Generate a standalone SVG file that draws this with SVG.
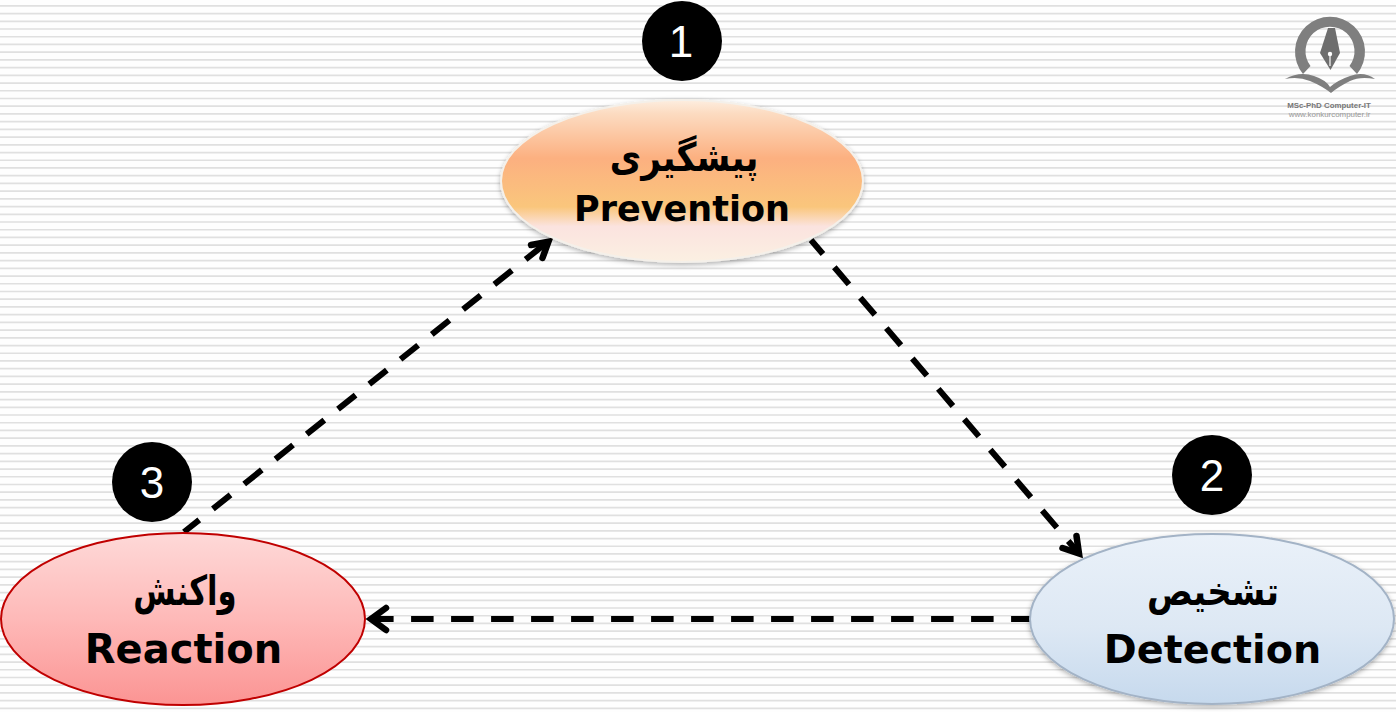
<svg xmlns="http://www.w3.org/2000/svg" width="1396" height="712" viewBox="0 0 1396 712">
<style>
.conn{fill:none;stroke:#000;stroke-width:6;stroke-dasharray:22.500 17.500}
.head{fill:none;stroke:#000;stroke-width:6.500;stroke-linecap:round;stroke-linejoin:miter}
.num{font-family:"Liberation Sans",Arial,sans-serif;font-size:44px;fill:#fff;text-anchor:middle}
.en{font-family:"DejaVu Sans",sans-serif;font-weight:700;fill:#000;text-anchor:middle}
.fa{font-family:"DejaVu Sans","Noto Sans",sans-serif;font-weight:700;font-size:33px;fill:#000;text-anchor:middle}
.ell{filter:url(#sh)}
</style>
<defs>
<linearGradient id="g1" x1="0" y1="0" x2="0" y2="1"><stop offset="0" stop-color="#fdeee0"/><stop offset=".08" stop-color="#fcdcc2"/><stop offset=".36" stop-color="#fcb080"/><stop offset=".66" stop-color="#fac67c"/><stop offset=".78" stop-color="#fbe3df"/><stop offset="1" stop-color="#fbf0e2"/></linearGradient>
<linearGradient id="g2" x1="0" y1="0" x2="0" y2="1"><stop offset="0" stop-color="#eaf1f9"/><stop offset=".55" stop-color="#dde8f4"/><stop offset="1" stop-color="#c6d9ed"/></linearGradient>
<linearGradient id="g3" x1="0" y1="0" x2="0" y2="1"><stop offset="0" stop-color="#fed9d8"/><stop offset=".5" stop-color="#feb9b8"/><stop offset="1" stop-color="#fb9493"/></linearGradient>
<filter id="sh" x="-10%" y="-10%" width="120%" height="125%"><feDropShadow dx="0" dy="2" stdDeviation="2.500" flood-color="#000" flood-opacity=".3"/></filter>
</defs>
<rect width="1396" height="712" fill="#fefefe"/>
<line x1="698" y1="5" x2="698" y2="712" stroke="#e0e0e0" stroke-width="1396" stroke-dasharray="1.700 6.020"/>
<g id="connectors">
<path class="conn" stroke-dashoffset="4.100" d="M811 240L1076 550"/>
<path class="head" d="M1062.500 548L1079 553.500L1076.500 536"/>
<path class="conn" stroke-dashoffset="3.600" d="M1030 619L372 619"/>
<path class="head" d="M386 608L371 619L386 630"/>
<path class="conn" stroke-dashoffset="3" d="M184 532L545 244"/>
<path class="head" d="M531 245L548.400 241.700L542.500 258"/>
</g>
<g id="node-prevention">
<ellipse class="ell" cx="682" cy="181" rx="181" ry="81" fill="url(#g1)" stroke="#f4f0ea" stroke-width="2"/>
<text class="fa" transform="translate(684 171) scale(1.04 1.2)" direction="rtl">پیشگیری</text>
<text class="en" x="682" y="220.700" font-size="35">Prevention</text>
</g>
<g id="node-detection">
<ellipse class="ell" cx="1212" cy="619" rx="182" ry="85" fill="url(#g2)" stroke="#a3b3c6" stroke-width="2"/>
<text class="fa" transform="translate(1213 605) scale(1.03 1.2)" direction="rtl">تشخیص</text>
<text class="en" x="1212.500" y="663.300" font-size="39.700">Detection</text>
</g>
<g id="node-reaction">
<ellipse cx="183" cy="619" rx="182" ry="86" fill="url(#g3)" stroke="#c00000" stroke-width="2"/>
<text class="fa" transform="translate(185 605) scale(.93 1.25)" direction="rtl">واکنش</text>
<text class="en" x="183.500" y="663.300" font-size="40">Reaction</text>
</g>
<g id="badge-1"><circle cx="682" cy="41" r="40" fill="#000"/><text class="num" x="681" y="57">1</text></g>
<g id="badge-2"><circle cx="1212" cy="475" r="40" fill="#000"/><text class="num" x="1212" y="491">2</text></g>
<g id="badge-3"><circle cx="152" cy="482" r="40" fill="#000"/><text class="num" x="152" y="498">3</text></g>
<g id="logo">
<path d="M1303 74A35 35 0 1 1 1357 74L1349.500 66A24.500 24.500 0 1 0 1310.500 66Z" fill="#7f7f7f"/>
<path d="M1328 28L1335 28L1340 53L1330.500 70L1320 53Z" fill="#6e6e6e"/>
<circle cx="1330" cy="54" r="2.200" fill="#fff"/><path d="M1330 54V66" stroke="#fff" stroke-width="1.200"/>
<path d="M1285 79Q1300 71 1314 76Q1326 80 1330 87Q1338 80 1350 76Q1364 71 1375 79Q1360 76 1350 81Q1338 87 1331 93Q1322 86 1310 81Q1298 76 1285 79Z" fill="#7f7f7f"/>
<text x="1329" y="107.500" font-family="Liberation Sans,sans-serif" font-size="7.900" font-weight="700" fill="#777" text-anchor="middle">MSc-PhD Computer-IT</text>
<text x="1329.500" y="117" font-family="Liberation Sans,sans-serif" font-size="7.900" fill="#999" text-anchor="middle">www.konkurcomputer.ir</text>
</g>
</svg>
